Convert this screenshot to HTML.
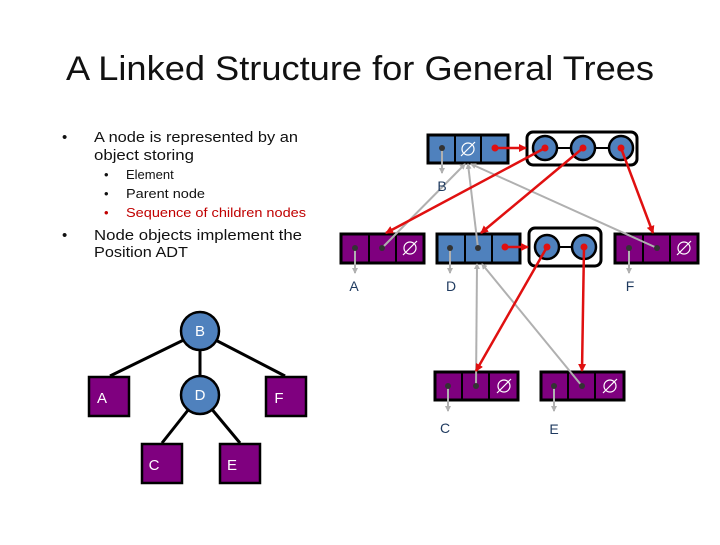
<!DOCTYPE html>
<html><head><meta charset="utf-8"><style>
body{margin:0;width:720px;height:540px;background:#fff;overflow:hidden;font-family:"Liberation Sans",sans-serif;}
</style></head><body>
<svg width="720" height="540" xmlns="http://www.w3.org/2000/svg" font-family="Liberation Sans, sans-serif">
<defs>
<marker id="ag" markerWidth="6" markerHeight="6" refX="5" refY="3" orient="auto" markerUnits="userSpaceOnUse"><path d="M0,0 L6,3 L0,6z" fill="#b0b0b0"/></marker>
<marker id="ar" markerWidth="8" markerHeight="8" refX="7" refY="4" orient="auto" markerUnits="userSpaceOnUse"><path d="M0,0 L8,4 L0,8z" fill="#e01010"/></marker>
</defs>
<text x="66" y="80" font-size="34" fill="#111" textLength="588" lengthAdjust="spacingAndGlyphs">A Linked Structure for General Trees</text>
<g font-size="15" fill="#111">
<text x="62" y="142">•</text><text x="94" y="142" textLength="204" lengthAdjust="spacingAndGlyphs">A node is represented by an</text>
<text x="94" y="160" textLength="100" lengthAdjust="spacingAndGlyphs">object storing</text>
<g font-size="13"><text x="104" y="179">•</text><text x="126" y="179">Element</text>
<text x="104" y="198">•</text><text x="126" y="198" textLength="79" lengthAdjust="spacingAndGlyphs">Parent node</text>
<text x="104" y="217" fill="#c00000">•</text><text x="126" y="217" fill="#c00000" textLength="180" lengthAdjust="spacingAndGlyphs">Sequence of children nodes</text></g>
<text x="62" y="240">•</text><text x="94" y="240" textLength="208" lengthAdjust="spacingAndGlyphs">Node objects implement the</text>
<text x="94" y="257" textLength="94" lengthAdjust="spacingAndGlyphs">Position ADT</text>
</g>
<g stroke="#000" stroke-width="3">
<line x1="200" y1="332" x2="110" y2="376"/><line x1="200" y1="332" x2="200" y2="395"/><line x1="200" y1="332" x2="285" y2="376"/>
<line x1="200" y1="395" x2="162" y2="443"/><line x1="200" y1="395" x2="240" y2="443"/>
</g>
<g stroke="#000" stroke-width="2.5">
<circle cx="200" cy="331" r="19" fill="#4f81bd"/><circle cx="200" cy="395" r="19" fill="#4f81bd"/>
<rect x="89" y="377" width="40" height="39" fill="#7f007f"/><rect x="266" y="377" width="40" height="39" fill="#7f007f"/>
<rect x="142" y="444" width="40" height="39" fill="#7f007f"/><rect x="220" y="444" width="40" height="39" fill="#7f007f"/>
</g>
<g fill="#fff" font-size="15" text-anchor="middle">
<text x="200" y="336">B</text><text x="200" y="400">D</text><text x="102" y="403">A</text><text x="279" y="403">F</text>
<text x="154" y="470">C</text><text x="232" y="470">E</text></g>
<g stroke="#000" stroke-width="3">
<rect x="428" y="135" width="80" height="28" fill="#4f81bd"/>
<rect x="527" y="132" width="110" height="33" rx="6" fill="#fff"/>
<rect x="341" y="234" width="83" height="29" fill="#7f007f"/>
<rect x="437" y="234" width="83" height="29" fill="#4f81bd"/>
<rect x="529" y="228" width="72" height="38" rx="6" fill="#fff"/>
<rect x="615" y="234" width="83" height="29" fill="#7f007f"/>
<rect x="435" y="372" width="83" height="28" fill="#7f007f"/>
<rect x="541" y="372" width="83" height="28" fill="#7f007f"/>
</g>
<g stroke="#000" stroke-width="2">
<line x1="455" y1="135" x2="455" y2="163"/><line x1="481" y1="135" x2="481" y2="163"/>
<line x1="369" y1="234" x2="369" y2="263"/><line x1="396" y1="234" x2="396" y2="263"/>
<line x1="465" y1="234" x2="465" y2="263"/><line x1="492" y1="234" x2="492" y2="263"/>
<line x1="643" y1="234" x2="643" y2="263"/><line x1="670" y1="234" x2="670" y2="263"/>
<line x1="462" y1="372" x2="462" y2="400"/><line x1="489" y1="372" x2="489" y2="400"/>
<line x1="568" y1="372" x2="568" y2="400"/><line x1="595" y1="372" x2="595" y2="400"/>
<line x1="545" y1="148" x2="621" y2="148"/><line x1="547" y1="247" x2="584" y2="247"/>
</g>
<g stroke="#000" stroke-width="2.5" fill="#4f81bd">
<circle cx="545" cy="148" r="12"/><circle cx="583" cy="148" r="12"/><circle cx="621" cy="148" r="12"/>
<circle cx="547" cy="247" r="12"/><circle cx="584" cy="247" r="12"/>
</g>
<g fill="none" stroke="#fff" stroke-width="1.2">
<circle cx="468" cy="149" r="6"/><line x1="461" y1="156" x2="475" y2="142"/>
<circle cx="410" cy="248" r="6"/><line x1="403" y1="255" x2="417" y2="241"/>
<circle cx="684" cy="248" r="6"/><line x1="677" y1="255" x2="691" y2="241"/>
<circle cx="504" cy="386" r="6"/><line x1="497" y1="393" x2="511" y2="379"/>
<circle cx="610" cy="386" r="6"/><line x1="603" y1="393" x2="617" y2="379"/>
</g>
<g stroke="#b0b0b0" stroke-width="2" marker-end="url(#ag)">
<line x1="442" y1="148" x2="442" y2="173"/>
<line x1="355" y1="248" x2="355" y2="273"/>
<line x1="450" y1="248" x2="450" y2="273"/>
<line x1="629" y1="248" x2="629" y2="273"/>
<line x1="448" y1="386" x2="448" y2="411"/>
<line x1="554" y1="386" x2="554" y2="411"/>
<line x1="382" y1="248" x2="465" y2="164"/>
<line x1="478" y1="248" x2="468" y2="164"/>
<line x1="657" y1="248" x2="471" y2="164"/>
<line x1="476" y1="386" x2="477" y2="264"/>
<line x1="582" y1="386" x2="482" y2="264"/>
</g>
<g fill="#333"><circle cx="442" cy="148" r="3"/><circle cx="355" cy="248" r="3"/><circle cx="382" cy="248" r="3"/>
<circle cx="450" cy="248" r="3"/><circle cx="478" cy="248" r="3"/><circle cx="629" cy="248" r="3"/><circle cx="657" cy="248" r="3"/>
<circle cx="448" cy="386" r="3"/><circle cx="476" cy="386" r="3"/><circle cx="554" cy="386" r="3"/><circle cx="582" cy="386" r="3"/></g>
<g stroke="#e01010" stroke-width="2.5" marker-end="url(#ar)">
<line x1="495" y1="148" x2="526" y2="148"/>
<line x1="545" y1="148" x2="386" y2="233"/>
<line x1="583" y1="148" x2="481" y2="233"/>
<line x1="621" y1="148" x2="653" y2="233"/>
<line x1="505" y1="247" x2="528" y2="247"/>
<line x1="547" y1="247" x2="476" y2="371"/>
<line x1="584" y1="247" x2="582" y2="371"/>
</g>
<g fill="#e01010"><circle cx="495" cy="148" r="3.5"/><circle cx="545" cy="148" r="3.5"/><circle cx="583" cy="148" r="3.5"/><circle cx="621" cy="148" r="3.5"/>
<circle cx="505" cy="247" r="3.5"/><circle cx="547" cy="247" r="3.5"/><circle cx="584" cy="247" r="3.5"/></g>
<g fill="#1f3a5f" font-size="14" text-anchor="middle">
<text x="442" y="191">B</text><text x="354" y="291">A</text><text x="451" y="291">D</text><text x="630" y="291">F</text>
<text x="445" y="433">C</text><text x="554" y="434">E</text></g>
</svg>
</body></html>
